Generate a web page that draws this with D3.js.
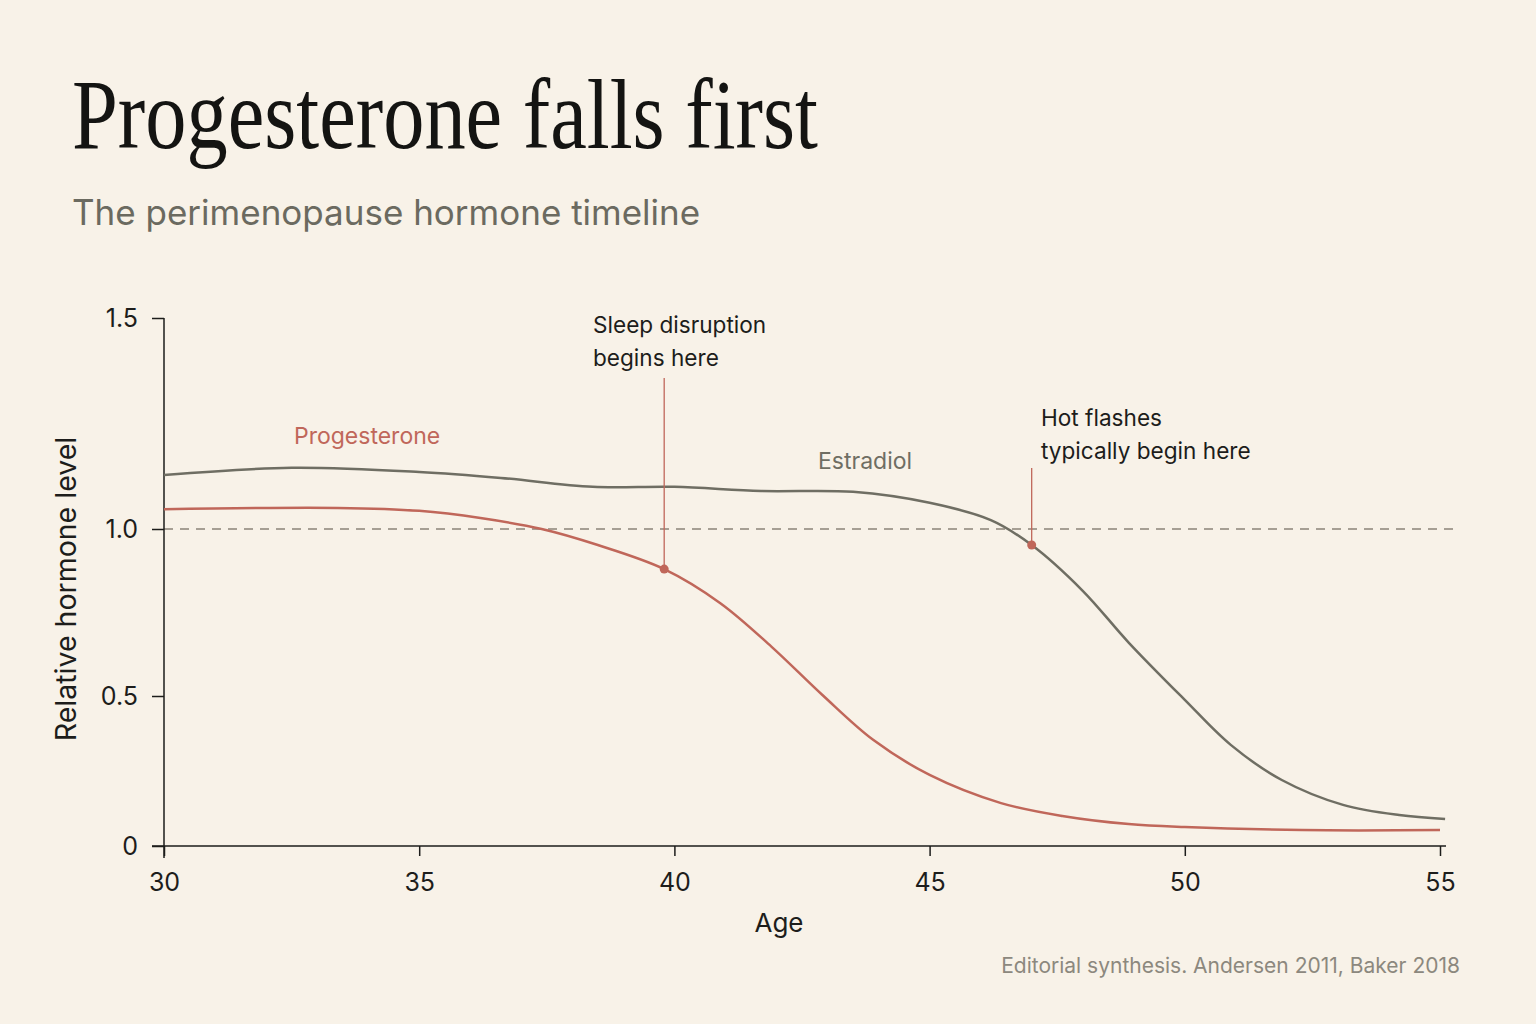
<!doctype html>
<html>
<head>
  <script src="https://cdnjs.cloudflare.com/ajax/libs/d3/7.8.5/d3.min.js"></script>
  <style>
    body { margin: 0; background: #f8f2e8; }
    svg { display: block; }
    .axis text { font-family: Inter, "Noto Sans", sans-serif; font-size: 25px; fill: #1d1d1b; }
    .axis line, .axis path { stroke: #1d1d1b; stroke-width: 1.5; }
  </style>
</head>
<body>
<svg width="1536" height="1024"></svg>
<script>
// ages and relative levels
var estradiolAge = [30, 32.5, 35, 36.6, 38.4, 40, 41.7, 43.5, 45, 46.2, 47, 48, 48.9, 50, 50.9, 51.9, 53.1, 54.2, 55.1];
var estradiolVal = [1.128, 1.145, 1.135, 1.121, 1.10, 1.10, 1.09, 1.088, 1.062, 1.021, 0.952, 0.815, 0.66, 0.487, 0.337, 0.22, 0.137, 0.103, 0.09];
var progAge = [30, 33.4, 35, 36.2, 37.4, 38.5, 39.8, 40.9, 41.9, 42.9, 43.9, 45, 46.4, 47.6, 48.9, 50, 52.3, 55];
var progVal = [1.047, 1.05, 1.043, 1.026, 1.0, 0.952, 0.88, 0.778, 0.648, 0.503, 0.353, 0.237, 0.143, 0.1, 0.073, 0.063, 0.053, 0.053];
var xTicks = [30, 35, 40, 45, 50, 55];
var yTicks = [0, 0.5, 1.0, 1.5];
var yTickLabels = ["0", "0.5", "1.0", "1.5"];
var noteAge = [39.8, 47];
var noteVal = [0.88, 0.952];
var noteText = [["Sleep disruption", "begins here"], ["Hot flashes", "typically begin here"]];

var red = "#c0675a", gray = "#6f6e63";
var sans = "Inter, 'Noto Sans', sans-serif";
var svg = d3.select("svg");

var x = d3.scaleLinear().domain([30, 55]).range([164, 1440]);
var y = d3.scaleLinear().domain([0, 0.5, 1, 1.5]).range([846, 696, 529, 318]);

// titles
svg.append("text").attr("x", 72).attr("y", 148)
  .attr("textLength", 746).attr("lengthAdjust", "spacingAndGlyphs")
  .style("font-family", "'Liberation Serif', 'DejaVu Serif', serif")
  .style("font-size", "100px").style("fill", "#141412")
  .text("Progesterone falls first");
svg.append("text").attr("x", 72).attr("y", 225)
  .style("font-family", sans)
  .style("font-size", "35px").style("fill", "#6b6a60")
  .text("The perimenopause hormone timeline");

// reference line at 1.0
svg.append("line").attr("x1", 164).attr("x2", 1460)
  .attr("y1", y(1)).attr("y2", y(1))
  .attr("stroke", "#8a8478").attr("stroke-width", 1.3).attr("stroke-dasharray", "9,7");

// axes
svg.append("g").attr("class", "axis").attr("transform", "translate(0,846)")
  .call(d3.axisBottom(x).tickValues(xTicks).tickSize(10).tickSizeOuter(0).tickPadding(17))
  .select(".domain").attr("d", "M152,0H1446");
svg.append("g").attr("class", "axis").attr("transform", "translate(164,0)")
  .call(d3.axisLeft(y).tickValues(yTicks).tickFormat((d, i) => yTickLabels[i]).tickSize(12).tickSizeOuter(0).tickPadding(14))
  .select(".domain").attr("d", "M0,318V858");

// lines
var line = d3.line().x(d => x(d[0])).y(d => y(d[1])).curve(d3.curveCatmullRom.alpha(0.5));
svg.append("path").datum(d3.zip(estradiolAge, estradiolVal))
  .attr("d", line).attr("fill", "none").attr("stroke", gray).attr("stroke-width", 2.5);
svg.append("path").datum(d3.zip(progAge, progVal))
  .attr("d", line).attr("fill", "none").attr("stroke", red).attr("stroke-width", 2.5);

// series labels
svg.append("text").attr("x", 294).attr("y", 444)
  .style("font-family", sans).style("font-size", "23px")
  .style("fill", red).text("Progesterone");
svg.append("text").attr("x", 818).attr("y", 469)
  .style("font-family", sans).style("font-size", "23px")
  .style("fill", gray).text("Estradiol");

// annotations
var noteTop = [378, 468];
var noteTextX = [593, 1041];
var noteTextY = [333, 426];
noteAge.forEach(function(a, i) {
  svg.append("line").attr("x1", x(a)).attr("x2", x(a))
    .attr("y1", noteTop[i]).attr("y2", y(noteVal[i]))
    .attr("stroke", red).attr("stroke-width", 1.3);
  svg.append("circle").attr("cx", x(a)).attr("cy", y(noteVal[i])).attr("r", 4.5).attr("fill", red);
  var t = svg.append("text").attr("x", noteTextX[i]).attr("y", noteTextY[i])
    .style("font-family", sans).style("font-size", "22.6px").style("fill", "#1d1d1b");
  noteText[i].forEach(function(s, j) {
    t.append("tspan").attr("x", noteTextX[i]).attr("dy", j ? 33 : 0).text(s);
  });
});

// axis titles
svg.append("text").attr("x", 779).attr("y", 932).attr("text-anchor", "middle")
  .style("font-family", sans).style("font-size", "26px").style("fill", "#1d1d1b")
  .text("Age");
svg.append("text").attr("transform", "translate(76,589) rotate(-90)").attr("text-anchor", "middle")
  .style("font-family", sans).style("font-size", "28.5px").style("fill", "#1d1d1b")
  .text("Relative hormone level");

// source
svg.append("text").attr("x", 1460).attr("y", 973).attr("text-anchor", "end")
  .style("font-family", sans).style("font-size", "21px").style("fill", "#8c887e")
  .text("Editorial synthesis. Andersen 2011, Baker 2018");
</script>
</body>
</html>
